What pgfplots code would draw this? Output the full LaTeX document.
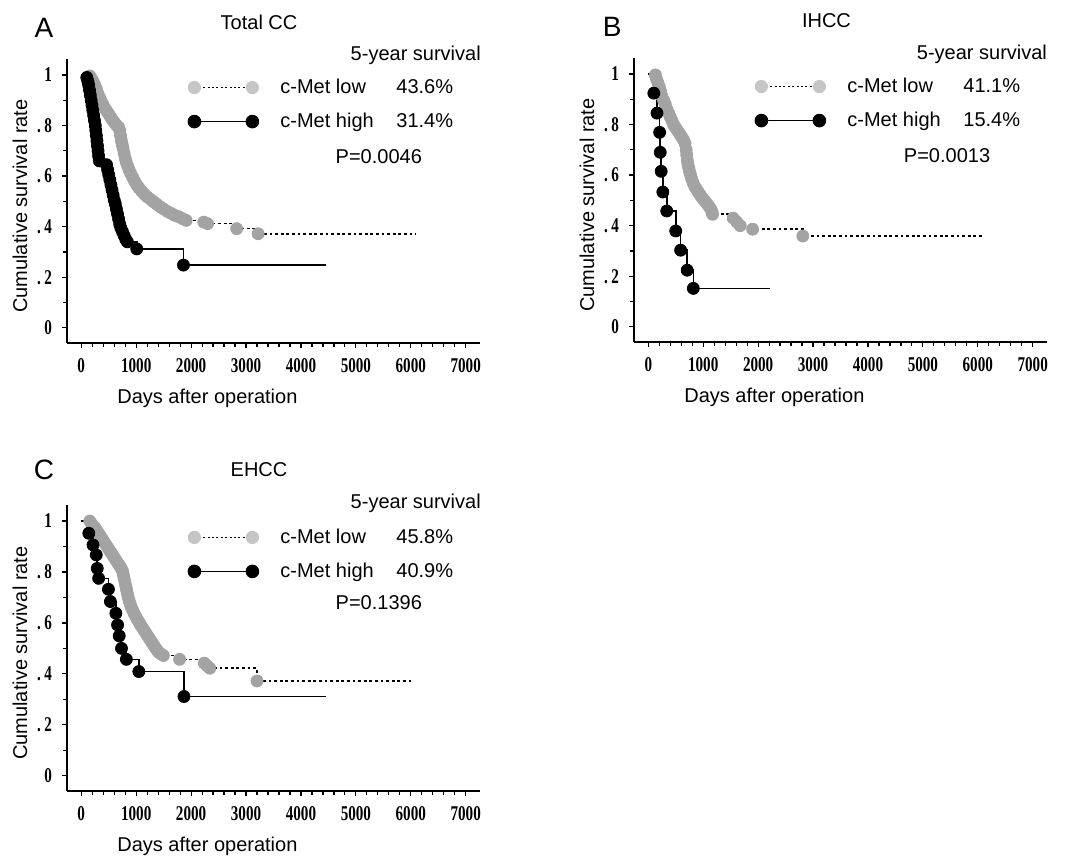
\documentclass[border=0pt]{standalone}
\usepackage{fontspec}
\setmainfont{Liberation Sans}
\newfontfamily\tickfont[FakeStretch=0.72]{Liberation Serif}
\usepackage{pgfplots}
\pgfplotsset{compat=1.18}

\definecolor{kmgray}{HTML}{A3A3A3}
\definecolor{lgray}{HTML}{C6C6C6}

\pgfplotsset{
  kmaxis/.style={
    scale only axis, width=206.5pt, height=142pt,
    xmin=-260, xmax=7260, ymin=-0.06, ymax=1.063,
    axis x line=bottom, axis y line=left,
    axis line style={-, line width=0.7pt},
    xtick={0,1000,2000,3000,4000,5000,6000,7000},
    xticklabels={0,1000,2000,3000,4000,5000,6000,7000},
    minor x tick num=4, scaled x ticks=false,
    ytick={0,0.2,0.4,0.6,0.8,1},
    yticklabels={0,.\,2,.\,4,.\,6,.\,8,1},
    minor y tick num=1,
    tick align=outside, major tick length=2.5pt, minor tick length=2pt,
    tick style={black, line width=0.6pt},
    ticklabel style={font=\tickfont\bfseries\fontsize{10.5}{11}\selectfont},
    xticklabel style={yshift=-1.5pt},
    yticklabel style={xshift=-1.5pt},
    clip=false,
    legend image code/.code={\draw[#1] plot coordinates {(0pt,0pt) (29pt,0pt)};},
    legend style={draw=none, fill=none, inner sep=0pt, row sep=7pt,
      nodes={text height=8pt, text depth=2pt, inner ysep=0pt, inner xsep=3pt}},
    legend cell align=left,
  },
  lowline/.style={black, dash pattern=on 1.4pt off 1.4pt, line width=0.8pt, const plot, forget plot},
  lowmarks/.style={only marks, mark=*, mark size=3pt, kmgray, forget plot},
  highline/.style={black, solid, line width=0.8pt, const plot, forget plot},
  highmarks/.style={only marks, mark=*, mark size=3pt, black, forget plot},
  lowleg/.style={black, dash pattern=on 1pt off 1.2pt, line width=0.6pt, mark=*, mark size=3pt, mark options={solid, draw=lgray, fill=lgray}},
  highleg/.style={black, line width=0.8pt, mark=*, mark size=3pt, mark options={solid, fill=black}},
}

\begin{document}
\begin{tikzpicture}[font=\fontsize{10}{12}\selectfont]
\useasboundingbox (0,0) rectangle (539pt,429.5pt);

% ---------------- A: Total CC
\begin{axis}[kmaxis, at={(33.5pt,258pt)}, anchor=south west,
  legend style={at={(0.293,0.936)}, anchor=north west}]
\addlegendimage{lowleg}
\addlegendentry{\hspace*{8pt}\makebox[58pt][l]{c-Met low}43.6\%}
\addlegendimage{highleg}
\addlegendentry{\hspace*{8pt}\makebox[58pt][l]{c-Met high}31.4\%}

\addplot[lowline] coordinates {(0,1) (155,0.996) (185,0.985) (215,0.975) (245,0.96) (275,0.945) (305,0.925) (335,0.91) (365,0.895) (395,0.882) (425,0.87) (455,0.86) (485,0.85) (515,0.84) (545,0.83) (575,0.82) (610,0.81) (645,0.80) (680,0.793) (700,0.78) (715,0.76) (730,0.74) (745,0.725) (760,0.71) (780,0.69) (800,0.67) (820,0.655) (845,0.64) (870,0.625) (900,0.61) (935,0.595) (970,0.58) (1010,0.565) (1050,0.553) (1100,0.54) (1150,0.528) (1200,0.518) (1260,0.508) (1320,0.498) (1380,0.488) (1440,0.478) (1500,0.47) (1570,0.46) (1640,0.452) (1700,0.445) (1770,0.44) (1840,0.432) (1910,0.425) (2230,0.418) (2300,0.412) (2830,0.392) (3220,0.372) (6100,0.372)};
\addplot[lowmarks] coordinates {(155,0.996) (185,0.985) (215,0.975) (245,0.96) (275,0.945) (305,0.925) (335,0.91) (365,0.895) (395,0.882) (425,0.87) (455,0.86) (485,0.85) (515,0.84) (545,0.83) (575,0.82) (610,0.81) (645,0.80) (680,0.793) (700,0.78) (715,0.76) (730,0.74) (745,0.725) (760,0.71) (780,0.69) (800,0.67) (820,0.655) (845,0.64) (870,0.625) (900,0.61) (935,0.595) (970,0.58) (1010,0.565) (1050,0.553) (1100,0.54) (1150,0.528) (1200,0.518) (1260,0.508) (1320,0.498) (1380,0.488) (1440,0.478) (1500,0.47) (1570,0.46) (1640,0.452) (1700,0.445) (1770,0.44) (1840,0.432) (1910,0.425) (2230,0.418) (2300,0.412) (2830,0.392) (3220,0.372)};
\addplot[highline] coordinates {(0,1) (100,0.99) (120,0.975) (135,0.96) (150,0.94) (165,0.92) (180,0.90) (195,0.88) (210,0.86) (225,0.84) (240,0.82) (255,0.80) (265,0.78) (275,0.76) (285,0.74) (295,0.72) (305,0.70) (315,0.68) (330,0.66) (460,0.645) (480,0.625) (500,0.605) (520,0.585) (540,0.565) (560,0.545) (580,0.525) (600,0.505) (620,0.49) (640,0.47) (660,0.45) (680,0.43) (700,0.41) (720,0.395) (750,0.38) (780,0.365) (810,0.35) (840,0.34) (1010,0.312) (1860,0.248) (4450,0.248)};
\addplot[highmarks] coordinates {(100,0.99) (120,0.975) (135,0.96) (150,0.94) (165,0.92) (180,0.90) (195,0.88) (210,0.86) (225,0.84) (240,0.82) (255,0.80) (265,0.78) (275,0.76) (285,0.74) (295,0.72) (305,0.70) (315,0.68) (330,0.66) (460,0.645) (480,0.625) (500,0.605) (520,0.585) (540,0.565) (560,0.545) (580,0.525) (600,0.505) (620,0.49) (640,0.47) (660,0.45) (680,0.43) (700,0.41) (720,0.395) (750,0.38) (780,0.365) (810,0.35) (840,0.34) (1010,0.312) (1860,0.248)};

\node[anchor=east] at (axis description cs:1.019,1.014) {5-year survival};
\node at (axis description cs:0.755,0.655) {P=0.0046};
\node at (axis description cs:0.465,1.130) {Total CC};
\node[font=\fontsize{14}{16}\selectfont] at (axis description cs:-0.056,1.109) {A};
\node at (axis description cs:0.34,-0.194) {Days after operation};
\node[rotate=90] at (axis description cs:-0.114,0.482) {Cumulative survival rate};
\end{axis}

% ---------------- B: IHCC
\begin{axis}[kmaxis, at={(317pt,258.5pt)}, anchor=south west,
  legend style={at={(0.293,0.936)}, anchor=north west}]
\addlegendimage{lowleg}
\addlegendentry{\hspace*{8pt}\makebox[58pt][l]{c-Met low}41.1\%}
\addlegendimage{highleg}
\addlegendentry{\hspace*{8pt}\makebox[58pt][l]{c-Met high}15.4\%}

\addplot[lowline] coordinates {(0,1) (130,0.996) (150,0.98) (175,0.965) (200,0.95) (225,0.93) (250,0.91) (280,0.895) (310,0.88) (340,0.86) (370,0.845) (400,0.83) (430,0.815) (460,0.80) (490,0.79) (520,0.78) (550,0.77) (580,0.76) (610,0.75) (640,0.74) (670,0.725) (690,0.70) (700,0.68) (710,0.66) (720,0.645) (735,0.63) (750,0.615) (770,0.60) (790,0.585) (815,0.57) (845,0.555) (875,0.545) (905,0.535) (935,0.525) (965,0.515) (1000,0.505) (1040,0.495) (1075,0.485) (1110,0.475) (1140,0.465) (1160,0.455) (1170,0.445) (1545,0.43) (1610,0.415) (1675,0.40) (1900,0.386) (2814,0.359) (6100,0.359)};
\addplot[lowmarks] coordinates {(130,0.996) (150,0.98) (175,0.965) (200,0.95) (225,0.93) (250,0.91) (280,0.895) (310,0.88) (340,0.86) (370,0.845) (400,0.83) (430,0.815) (460,0.80) (490,0.79) (520,0.78) (550,0.77) (580,0.76) (610,0.75) (640,0.74) (670,0.725) (690,0.70) (700,0.68) (710,0.66) (720,0.645) (735,0.63) (750,0.615) (770,0.60) (790,0.585) (815,0.57) (845,0.555) (875,0.545) (905,0.535) (935,0.525) (965,0.515) (1000,0.505) (1040,0.495) (1075,0.485) (1110,0.475) (1140,0.465) (1160,0.455) (1170,0.445) (1545,0.43) (1610,0.415) (1675,0.40) (1900,0.386) (2814,0.359)};
\addplot[highline] coordinates {(0,1) (101,0.924) (159,0.845) (207,0.769) (218,0.69) (235,0.615) (265,0.533) (336,0.458) (500,0.379) (589,0.303) (708,0.224) (820,0.152) (2225,0.152)};
\addplot[highmarks] coordinates {(101,0.924) (159,0.845) (207,0.769) (218,0.69) (235,0.615) (265,0.533) (336,0.458) (500,0.379) (589,0.303) (708,0.224) (820,0.152)};

\node[anchor=east] at (axis description cs:1.017,1.014) {5-year survival};
\node at (axis description cs:0.758,0.655) {P=0.0013};
\node at (axis description cs:0.466,1.130) {IHCC};
\node[font=\fontsize{14}{16}\selectfont] at (axis description cs:-0.053,1.109) {B};
\node at (axis description cs:0.34,-0.194) {Days after operation};
\node[rotate=90] at (axis description cs:-0.114,0.482) {Cumulative survival rate};
\end{axis}

% ---------------- C: EHCC
\begin{axis}[kmaxis, at={(33.5pt,34pt)}, anchor=south west, height=143pt,
  legend style={at={(0.293,0.923)}, anchor=north west}]
\addlegendimage{lowleg}
\addlegendentry{\hspace*{8pt}\makebox[58pt][l]{c-Met low}45.8\%}
\addlegendimage{highleg}
\addlegendentry{\hspace*{8pt}\makebox[58pt][l]{c-Met high}40.9\%}

\addplot[lowline] coordinates {(0,1) (155,1.0) (185,0.99) (215,0.98) (245,0.975) (275,0.965) (305,0.955) (335,0.945) (365,0.935) (395,0.925) (425,0.915) (455,0.905) (485,0.895) (515,0.885) (545,0.875) (575,0.865) (605,0.855) (635,0.845) (665,0.835) (695,0.825) (725,0.815) (750,0.805) (765,0.79) (780,0.775) (795,0.76) (810,0.745) (825,0.73) (840,0.715) (855,0.70) (870,0.688) (890,0.675) (910,0.662) (935,0.65) (960,0.638) (990,0.626) (1020,0.614) (1050,0.603) (1080,0.592) (1110,0.582) (1140,0.572) (1170,0.562) (1200,0.552) (1230,0.542) (1260,0.532) (1290,0.522) (1320,0.512) (1350,0.502) (1380,0.493) (1410,0.485) (1450,0.478) (1495,0.472) (1790,0.457) (2240,0.442) (2290,0.432) (2340,0.422) (3200,0.372) (6000,0.372)};
\addplot[lowmarks] coordinates {(155,1.0) (185,0.99) (215,0.98) (245,0.975) (275,0.965) (305,0.955) (335,0.945) (365,0.935) (395,0.925) (425,0.915) (455,0.905) (485,0.895) (515,0.885) (545,0.875) (575,0.865) (605,0.855) (635,0.845) (665,0.835) (695,0.825) (725,0.815) (750,0.805) (765,0.79) (780,0.775) (795,0.76) (810,0.745) (825,0.73) (840,0.715) (855,0.70) (870,0.688) (890,0.675) (910,0.662) (935,0.65) (960,0.638) (990,0.626) (1020,0.614) (1050,0.603) (1080,0.592) (1110,0.582) (1140,0.572) (1170,0.562) (1200,0.552) (1230,0.542) (1260,0.532) (1290,0.522) (1320,0.512) (1350,0.502) (1380,0.493) (1410,0.485) (1450,0.478) (1495,0.472) (1790,0.457) (2240,0.442) (2290,0.432) (2340,0.422) (3200,0.372)};
\addplot[highline] coordinates {(0,1) (137,0.952) (214,0.906) (273,0.867) (291,0.814) (316,0.775) (494,0.732) (530,0.684) (630,0.638) (661,0.592) (691,0.549) (732,0.500) (821,0.457) (1048,0.409) (1870,0.311) (4450,0.311)};
\addplot[highmarks] coordinates {(137,0.952) (214,0.906) (273,0.867) (291,0.814) (316,0.775) (494,0.732) (530,0.684) (630,0.638) (661,0.592) (691,0.549) (732,0.500) (821,0.457) (1048,0.409) (1870,0.311)};

\node[anchor=east] at (axis description cs:1.019,1.007) {5-year survival};
\node at (axis description cs:0.755,0.657) {P=0.1396};
\node at (axis description cs:0.465,1.122) {EHCC};
\node[font=\fontsize{14}{16}\selectfont] at (axis description cs:-0.056,1.122) {C};
\node at (axis description cs:0.34,-0.192) {Days after operation};
\node[rotate=90] at (axis description cs:-0.114,0.482) {Cumulative survival rate};
\end{axis}
\end{tikzpicture}
\end{document}
